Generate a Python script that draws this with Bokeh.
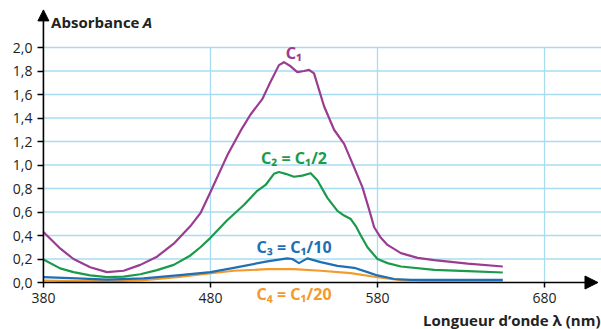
from bokeh.plotting import figure
from bokeh.models import (Range1d, FixedTicker, CustomJSTickFormatter, Label,
                          Arrow, NormalHead)
from bokeh.embed import file_html
from bokeh.resources import INLINE

# ---------------- data ----------------
wl_c1 = [380, 390, 398, 408, 418, 428, 438, 448, 458, 468, 474, 480, 490, 498, 504,
         511, 515, 521, 524, 528, 532, 536, 539, 542, 548, 554, 560, 566, 571, 575,
         578, 582, 586, 594, 604, 614, 634, 655]
a_c1 = [0.43, 0.29, 0.20, 0.13, 0.088, 0.10, 0.15, 0.22, 0.33, 0.48, 0.59, 0.77,
        1.08, 1.29, 1.43, 1.56, 1.68, 1.85, 1.875, 1.84, 1.79, 1.80, 1.81, 1.78,
        1.50, 1.30, 1.18, 0.98, 0.81, 0.62, 0.47, 0.38, 0.32, 0.25, 0.21, 0.19,
        0.16, 0.136]

wl_c2 = [380, 390, 398, 408, 418, 428, 438, 448, 458, 468, 474, 480, 490, 500, 508,
         513, 518, 521, 525, 530, 535, 540, 544, 550, 556, 560, 564, 567, 570, 574,
         580, 586, 594, 614, 634, 655]
a_c2 = [0.196, 0.12, 0.088, 0.06, 0.045, 0.05, 0.07, 0.105, 0.15, 0.23, 0.30, 0.38,
        0.53, 0.66, 0.78, 0.83, 0.925, 0.94, 0.925, 0.90, 0.91, 0.93, 0.87, 0.72,
        0.61, 0.57, 0.54, 0.48, 0.40, 0.30, 0.20, 0.165, 0.136, 0.108, 0.097, 0.085]

wl_c3 = [380, 400, 418, 440, 460, 474, 480, 494, 514, 526, 529, 533, 538, 546, 556,
         566, 574, 580, 590, 600, 655]
a_c3 = [0.045, 0.035, 0.025, 0.035, 0.06, 0.08, 0.088, 0.125, 0.18, 0.205, 0.20,
        0.165, 0.205, 0.173, 0.142, 0.125, 0.088, 0.06, 0.03, 0.022, 0.022]

wl_c4 = [380, 400, 420, 440, 460, 474, 494, 514, 530, 546, 564, 580, 594, 610, 655]
a_c4 = [0.017, 0.012, 0.011, 0.02, 0.045, 0.068, 0.10, 0.113, 0.113, 0.10, 0.08,
        0.045, 0.02, 0.015, 0.015]

x_ticks = [380, 480, 580, 680]
y_ticks = [0.0, 0.2, 0.4, 0.6, 0.8, 1.0, 1.2, 1.4, 1.6, 1.8, 2.0]

series_labels = ["C\u2081", "C\u2082 = C\u2081/2", "C\u2083 = C\u2081/10", "C\u2084 = C\u2081/20"]
label_x = [530, 530, 530, 530]
label_y = [1.95, 1.06, 0.30, -0.10]

x_title = "Longueur d\u2019onde \u03bb (nm)"
y_title = "Absorbance"
y_title_sym = "A"

# ---------------- styles ----------------
PURPLE = "#9a3c92"
GREEN = "#1c9a4b"
BLUE = "#1f6fb6"
ORANGE = "#f39a2c"
GRID = "#a9dcf0"
FONT = "Open Sans"

XMIN, X1 = 354.3, 714.1      # frame spans the whole width; y axis sits at 380
Y0, Y1 = -0.40, 2.40
XA = x_ticks[0]

p = figure(width=601, height=329, output_backend="svg",
           toolbar_location=None, x_range=Range1d(XMIN, X1), y_range=Range1d(Y0, Y1),
           min_border_left=0, min_border_right=0, min_border_top=0,
           min_border_bottom=0)
p.outline_line_color = None
p.background_fill_color = "white"
p.border_fill_color = "white"

# grids
p.xgrid.visible = False
p.ygrid.visible = False
n_h = len(y_ticks) - 1
p.segment(x0=[XA] * n_h, y0=y_ticks[1:], x1=[X1] * n_h, y1=y_ticks[1:],
          line_color=GRID, line_width=1.3)
p.segment(x0=x_ticks[1:], y0=[y_ticks[0]] * 3, x1=x_ticks[1:], y1=[y_ticks[-1]] * 3,
          line_color=GRID, line_width=1.3)

# axes
for ax in (p.xaxis[0], p.yaxis[0]):
    ax.axis_line_color = None
    ax.major_tick_line_color = "black"
    ax.major_tick_line_width = 1.5
    ax.major_tick_in = 0
    ax.minor_tick_line_color = None
    ax.major_label_text_font = FONT
    ax.major_label_text_font_size = "14px"
    ax.major_label_text_color = "#222222"
p.yaxis.ticker = FixedTicker(ticks=y_ticks)
p.yaxis.formatter = CustomJSTickFormatter(code="return tick.toFixed(1).replace('.', ',');")
p.yaxis.fixed_location = XA
p.yaxis.major_tick_out = 6
p.yaxis.major_label_standoff = 5
p.xaxis.ticker = FixedTicker(ticks=x_ticks)
p.xaxis.fixed_location = 0
p.xaxis.major_tick_out = 5
p.xaxis.major_label_standoff = 5

# curves
p.line(wl_c4, a_c4, line_color=ORANGE, line_width=2.2, line_join="round")
p.line(wl_c3, a_c3, line_color=BLUE, line_width=2.2, line_join="round")
p.line(wl_c2, a_c2, line_color=GREEN, line_width=2.2, line_join="round")
p.line(wl_c1, a_c1, line_color=PURPLE, line_width=2.2, line_join="round")

# axis arrows
p.add_layout(Arrow(x_start=XA, y_start=0, x_end=712, y_end=0, line_width=1.6,
                   end=NormalHead(size=13, fill_color="black", line_color="black")))
p.add_layout(Arrow(x_start=XA, y_start=0, x_end=XA, y_end=2.32, line_width=1.6,
                   end=NormalHead(size=11, fill_color="black", line_color="black")))

# series labels
for txt, lx, ly, col in zip(series_labels, label_x, label_y, [PURPLE, GREEN, BLUE, ORANGE]):
    p.add_layout(Label(x=lx, y=ly, text=txt, text_color=col, text_font="Noto Sans",
                       text_font_style="bold", text_font_size="16px",
                       text_align="center", text_baseline="middle"))

# axis titles
p.add_layout(Label(x=437.5, y=2.22, text=y_title, text_font=FONT, text_font_style="bold",
                   text_font_size="15px", text_align="right", text_baseline="middle",
                   text_color="#222222"))
p.add_layout(Label(x=439.5, y=2.22, text=y_title_sym, text_font=FONT,
                   text_font_style="bold italic", text_font_size="15px",
                   text_align="left", text_baseline="middle", text_color="#222222"))
p.add_layout(Label(x=X1 - 0.6, y=-0.315, text=x_title, text_font=FONT, text_font_style="bold",
                   text_font_size="15px", text_align="right", text_baseline="middle",
                   text_color="#222222"))

open("out.html", "w").write(file_html(p, INLINE))
